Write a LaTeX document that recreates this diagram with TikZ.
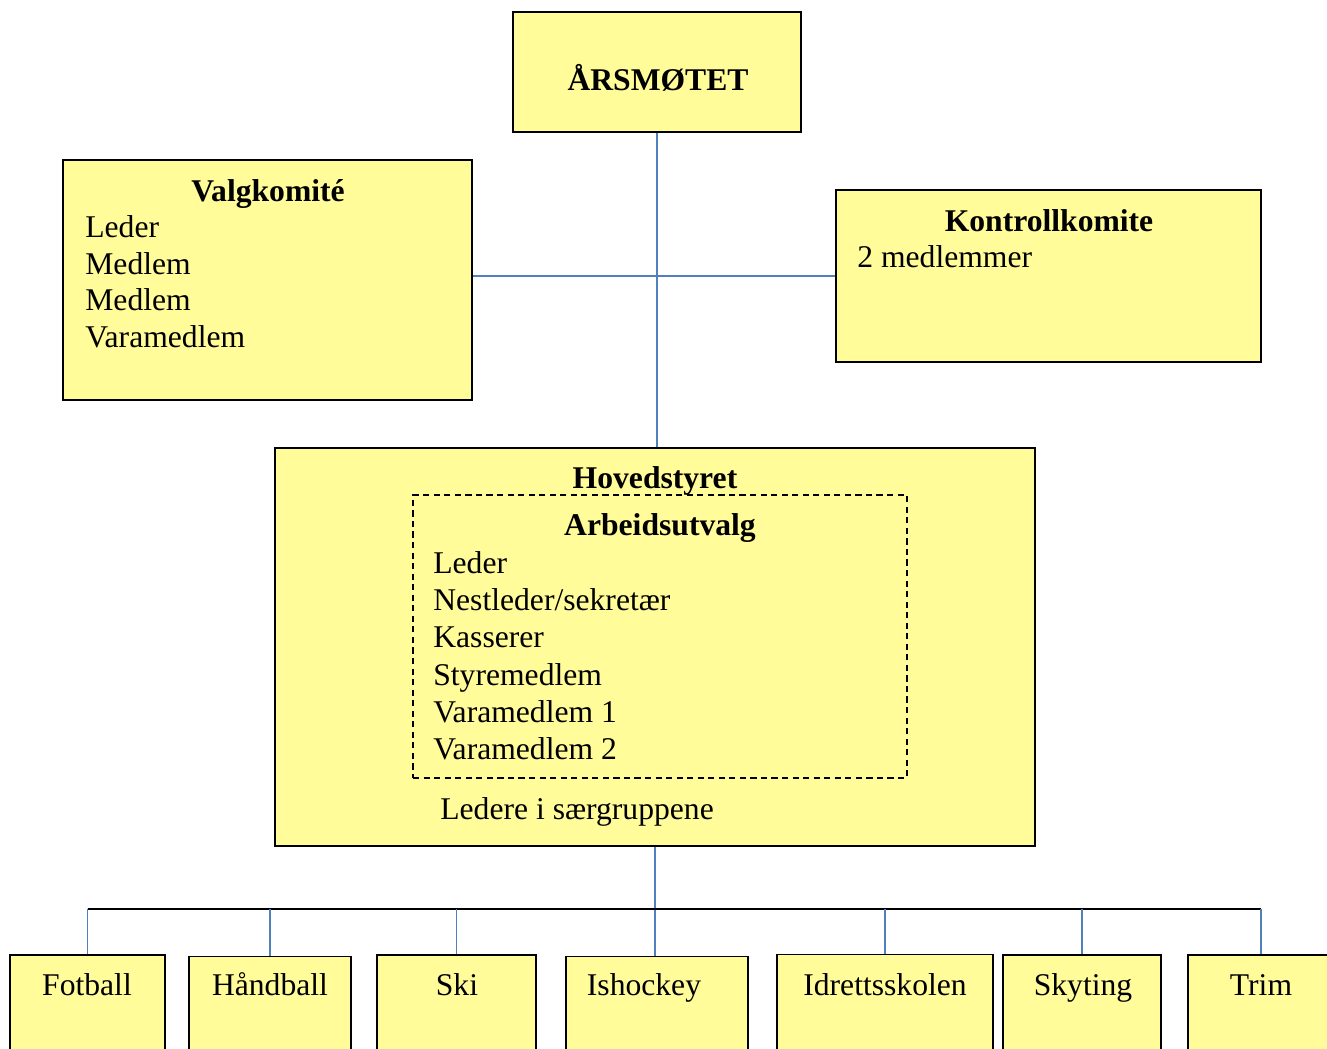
\documentclass[tikz,border=0pt]{standalone}
\usepackage{fontspec}
\setmainfont{Liberation Serif}
\definecolor{boxyellow}{RGB}{255,252,153}
\definecolor{linkblue}{RGB}{79,129,189}
\newcommand\orgfont{\fontsize{18}{20.9}\selectfont}

\begin{document}
\begin{tikzpicture}[x=0.02cm, y=-0.02cm,
		box/.style={draw, fill=boxyellow, line width=0.85pt, inner sep=0pt},
		sport/.style={box, minimum height=2.9cm},
		title/.style={font=\orgfont\bfseries, anchor=base, inner sep=0pt},
		plain/.style={font=\orgfont, anchor=base, inner sep=0pt},
		list/.style={font=\orgfont, align=left, anchor=north west, inner sep=0pt},
		link/.style={draw=linkblue, line width=0.8pt}]
		\clip (0,0) rectangle (1327,1048);
		% top level
		\node[box, minimum width=5.76cm, minimum height=2.4cm] (aars) at (657,72) {};
		\node[title] (aarsT) at (658,90) {ÅRSMØTET};
		\node[box, minimum width=8.18cm, minimum height=4.8cm] (valg) at (267.5,280) {};
		\node[title] (valgT) at (268,201) {Valgkomité};
		\node[list] (valgL) at (85,215) {Leder\\Medlem\\Medlem\\Varamedlem};
		\node[box, minimum width=8.5cm, minimum height=3.44cm] (kontr) at (1048.5,276) {};
		\node[title] (kontrT) at (1049,231) {Kontrollkomite};
		\node[plain, anchor=base west] (kontrL) at (857,267) {2 medlemmer};
		% board
		\node[box, minimum width=15.2cm, minimum height=7.96cm] (hoved) at (655,647) {};
		\node[title] (hovedT) at (655,488) {Hovedstyret};
		\node[draw, dash pattern=on 3.5pt off 2.5pt, line width=0.85pt, minimum width=9.88cm, minimum height=5.66cm] (arbeid) at (660,636.5) {};
		\node[title] (arbeidT) at (660,535) {Arbeidsutvalg};
		\node[list, font=\fontsize{18}{21.2}\selectfont] (arbeidL) at (433,551) {Leder\\Nestleder/sekretær\\Kasserer\\Styremedlem\\Varamedlem 1\\Varamedlem 2};
		\node[plain, anchor=base west] (saerT) at (440,819) {Ledere i særgruppene};
		% groups
		\node[sport, minimum width=3.1cm] (fot) at (87.5,1027.5) {};
		\node[plain] (fotT) at (87,995) {Fotball};
		\node[sport, minimum width=3.24cm] (haand) at (270,1029) {};
		\node[plain] (haandT) at (270,995) {Håndball};
		\node[sport, minimum width=3.18cm] (ski) at (456.5,1027.5) {};
		\node[plain] (skiT) at (457,995) {Ski};
		\node[sport, minimum width=3.64cm] (isho) at (657,1029) {};
		\node[plain] (ishoT) at (644,995) {Ishockey};
		\node[sport, minimum width=4.32cm] (idrett) at (885,1027) {};
		\node[plain] (idrettT) at (885,995) {Idrettsskolen};
		\node[sport, minimum width=3.16cm] (skyt) at (1082,1027.5) {};
		\node[plain] (skytT) at (1083,995) {Skyting};
		\node[sport, minimum width=2.92cm] (trim) at (1261,1027.5) {};
		\node[plain] (trimT) at (1261,995) {Trim};
		% connectors
		\coordinate (hub) at (aars.south |- kontr.west);
		\coordinate (bus) at (655,909);
		\draw[link] (aars.south) -- (aars.south |- hoved.north);
		\draw[link] (valg.east |- hub) -- (hub) -- (kontr.west);
		\draw[link] (hoved.south) -- (hoved.south |- isho.north);
		\draw[line width=0.85pt] (fot.north |- bus) -- (trim.north |- bus);
		\draw[link] (fot.north |- bus) -- (fot.north);
		\draw[link] (haand.north |- bus) -- (haand.north);
		\draw[link] (ski.north |- bus) -- (ski.north);
		\draw[link] (idrett.north |- bus) -- (idrett.north);
		\draw[link] (skyt.north |- bus) -- (skyt.north);
		\draw[link] (trim.north |- bus) -- (trim.north);
	\end{tikzpicture}
\end{document}
